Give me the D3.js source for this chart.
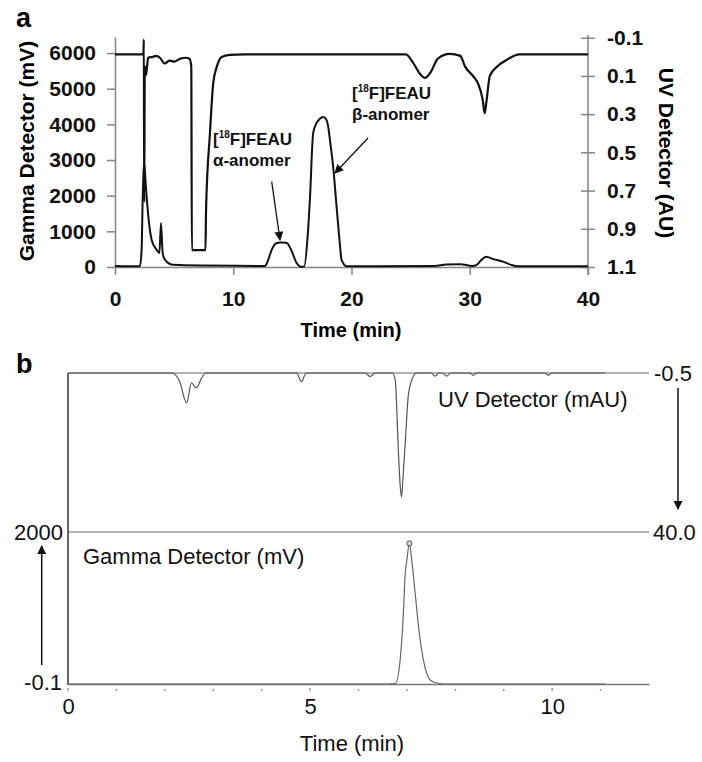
<!DOCTYPE html>
<html>
<head>
<meta charset="utf-8">
<script src="https://cdn.jsdelivr.net/npm/d3@7"></script>
<style>
  body { margin: 0; background: #fff; }
  svg { display: block; font-family: Arial, "Liberation Sans", Helvetica, sans-serif; }
</style>
</head>
<body>
<svg id="chart" width="702" height="762"></svg>
<script>
// ---- panel a data: [time (min), value] ----
const aUv = [
  [0, -0.013], [2.40, -0.013], [2.44, -0.09], [2.47, 0.76], [2.52, 0.05], [2.62, 0.095],
  [2.70, 0.06], [2.80, 0.005], [3.2, 0.0], [3.5, -0.005], [3.8, 0.005], [4.2, 0.035],
  [4.6, 0.02], [5.0, 0.025], [5.5, 0.01], [6.0, 0.005], [6.3, 0.01], [6.45, 0.05],
  [6.5, 1.012], [7.65, 1.012], [7.7, 0.8], [8.03, 0.40], [8.31, 0.137], [8.6, 0.054],
  [9.02, 0.001], [9.7, -0.01], [11, -0.013], [24.6, -0.013], [25.2, 0.03], [25.8, 0.09],
  [26.2, 0.11], [26.7, 0.08], [27.3, 0.01], [28.3, -0.015], [29.2, -0.005], [29.6, 0.05],
  [30.4, 0.11], [30.7, 0.14], [31.1, 0.226], [31.26, 0.295], [31.4, 0.24], [31.7, 0.10],
  [32.3, 0.052], [33.1, 0.017], [34.2, -0.013], [40, -0.013]
];
const aGamma = [
  [0, 30], [2.11, 20], [2.25, 480], [2.34, 1880], [2.42, 2720], [2.48, 2870], [2.59, 2360],
  [2.82, 1410], [3.1, 760], [3.52, 480], [3.75, 390], [3.89, 1230], [4.03, 390], [4.23, 200],
  [4.93, 60], [7.2, 40], [12.7, 30], [12.9, 150], [13.25, 480], [13.6, 660], [14.0, 690],
  [14.5, 680], [14.9, 480], [15.36, 110], [15.7, 10], [16.0, 15], [16.3, 900], [16.48, 1880],
  [16.76, 3760], [17.05, 4040], [17.3, 4150], [17.6, 4210], [17.85, 4150], [18.03, 3930],
  [18.2, 3500], [18.45, 2810], [18.74, 1690], [19.0, 700], [19.16, 200], [19.59, 20],
  [27, 30], [28, 70], [29.2, 80], [30.2, 30], [30.5, 40], [31.0, 200], [31.4, 290],
  [32, 220], [32.8, 150], [33.5, 60], [34.1, 20], [40, 20]
];
const aTimeTicks = [0, 10, 20, 30, 40];
const aGammaTicks = [0, 1000, 2000, 3000, 4000, 5000, 6000];
const aUvTicks = [-0.1, 0.1, 0.3, 0.5, 0.7, 0.9, 1.1];

// ---- panel b data ----
const bUv = [
  [0, -0.5], [2.15, -0.5], [2.3, 1.5], [2.45, 7.1], [2.55, 2.0], [2.65, 3.3], [2.75, 1.0],
  [2.85, -0.5], [4.72, -0.5], [4.82, 1.7], [4.92, -0.5], [6.14, -0.5], [6.24, 0.4],
  [6.34, -0.5], [6.70, -0.5], [6.76, 1.3], [6.82, 18.3], [6.86, 28], [6.89, 31.1],
  [6.92, 26], [6.96, 18.3], [7.03, 5], [7.10, 1.3], [7.2, -0.5], [7.5, -0.5], [7.58, 0.3],
  [7.66, -0.5], [7.74, -0.5], [7.82, 0.3], [7.9, -0.5], [8.3, -0.5], [8.37, 0.1],
  [8.44, -0.5], [9.85, -0.5], [9.92, 0.1], [10, -0.5], [11.1, -0.5]
];
const bGamma = [
  [0, 0], [6.6, 0], [6.76, 5], [6.86, 316], [6.93, 974], [6.96, 1412], [7.0, 1632],
  [7.05, 1851], [7.10, 1632], [7.17, 1197], [7.24, 754], [7.34, 316], [7.48, 53],
  [7.62, 13], [7.8, 0], [11.1, 0]
];
const bGammaApex = [[7.05, 1851]];
const bTimeTicks = [0, 5, 10];
const bMinorTicks = [0, 1, 2, 3, 4, 5, 6, 7, 8, 9, 10, 11];

const svg = d3.select("#chart");
const axisColor = "#858585";

svg.append("defs").append("marker")
  .attr("id", "head")
  .attr("viewBox", "0 0 10 10")
  .attr("refX", 9).attr("refY", 5)
  .attr("markerWidth", 10).attr("markerHeight", 9)
  .attr("markerUnits", "userSpaceOnUse")
  .attr("orient", "auto")
  .append("path")
  .attr("d", "M0,0L10,5L0,10z")
  .attr("fill", "#111");

const styleAxis = (g, size, weight) => {
  g.attr("font-family", null).attr("font-size", null);
  g.select(".domain").attr("stroke", axisColor).attr("stroke-width", 1.5);
  g.selectAll(".tick line").attr("stroke", axisColor).attr("stroke-width", 1.5);
  g.selectAll(".tick text")
    .attr("fill", "#111")
    .attr("font-size", size)
    .attr("font-weight", weight);
};

// ================= panel a =================
const xA = d3.scaleLinear().domain([0, 40]).range([115, 588]);
const gA = d3.scaleLinear().domain([0, 6450]).range([267, 37]);
const uA = d3.scaleLinear().domain([-0.1, 1.1]).range([37.7, 267]);

svg.append("g")
  .attr("transform", "translate(0,267)")
  .call(d3.axisBottom(xA).tickValues(aTimeTicks).tickSize(8).tickSizeOuter(0).tickPadding(16))
  .call(styleAxis, 21, "bold");

svg.append("g")
  .attr("transform", "translate(115,0)")
  .call(d3.axisLeft(gA).tickValues(aGammaTicks).tickSize(8).tickSizeOuter(0)
    .tickPadding(11).tickFormat(d => String(d)))
  .call(styleAxis, 21, "bold");

const rightAxis = svg.append("g")
  .attr("transform", "translate(588,0)")
  .call(d3.axisRight(uA).tickValues(aUvTicks).tickSize(7).tickSizeOuter(0)
    .tickPadding(12).tickFormat(d => d.toFixed(1)))
  .call(styleAxis, 21, "bold");
rightAxis.selectAll(".tick line").attr("x1", -7);
rightAxis.select(".domain").attr("d", "M0,35V275");

const lineUvA = d3.line().x(d => xA(d[0])).y(d => uA(d[1])).curve(d3.curveMonotoneX);
const lineGammaA = d3.line().x(d => xA(d[0])).y(d => gA(d[1])).curve(d3.curveMonotoneX);

svg.append("path").datum(aGamma)
  .attr("d", lineGammaA).attr("fill", "none").attr("stroke", "#111").attr("stroke-width", 2);
svg.append("path").datum(aUv)
  .attr("d", lineUvA).attr("fill", "none").attr("stroke", "#111").attr("stroke-width", 2.2);

svg.append("text").attr("x", 16).attr("y", 27)
  .attr("font-size", 27).attr("font-weight", "bold").text("a");

svg.append("text")
  .attr("transform", "translate(34,151) rotate(-90)")
  .attr("text-anchor", "middle").attr("font-size", 21).attr("font-weight", "bold")
  .text("Gamma Detector (mV)");

svg.append("text")
  .attr("transform", "translate(659,153) rotate(90)")
  .attr("text-anchor", "middle").attr("font-size", 21).attr("font-weight", "bold")
  .text("UV Detector (AU)");

svg.append("text").attr("x", 351).attr("y", 337)
  .attr("text-anchor", "middle").attr("font-size", 20).attr("font-weight", "bold")
  .text("Time (min)");

const feau = (x, y, second) => {
  const t = svg.append("text").attr("x", x).attr("y", y)
    .attr("font-size", 17).attr("font-weight", "bold").attr("fill", "#111");
  t.append("tspan").text("[");
  t.append("tspan").attr("font-size", 10).attr("dy", -7).text("18");
  t.append("tspan").attr("dy", 7).text("F]FEAU");
  svg.append("text").attr("x", x).attr("y", y + 21)
    .attr("font-size", 17).attr("font-weight", "bold").attr("fill", "#111")
    .text(second);
};
feau(213, 145, "α-anomer");
feau(352, 99, "β-anomer");

svg.append("line")
  .attr("x1", 271.7).attr("y1", 181.7).attr("x2", 280).attr("y2", 240)
  .attr("stroke", "#111").attr("stroke-width", 1.3).attr("marker-end", "url(#head)");
svg.append("line")
  .attr("x1", 368).attr("y1", 138).attr("x2", 335).attr("y2", 173)
  .attr("stroke", "#111").attr("stroke-width", 1.3).attr("marker-end", "url(#head)");

// ================= panel b =================
const xB = d3.scaleLinear().domain([0, 12]).range([68, 649]);
const uB = d3.scaleLinear().domain([-0.5, 40]).range([373, 532]);
const gB = d3.scaleLinear().domain([-0.1, 2000]).range([684, 532]);

svg.append("text").attr("x", 16).attr("y", 373)
  .attr("font-size", 27).attr("font-weight", "bold").text("b");

// reference lines at top of UV scale and top of gamma scale
svg.append("line")
  .attr("x1", xB(0)).attr("x2", xB(12)).attr("y1", uB(-0.5)).attr("y2", uB(-0.5))
  .attr("stroke", "#9a9a9a").attr("stroke-width", 1.5);
svg.append("line")
  .attr("x1", xB(0)).attr("x2", xB(12)).attr("y1", uB(40)).attr("y2", uB(40))
  .attr("stroke", "#9a9a9a").attr("stroke-width", 1.5);

const bottomB = svg.append("g")
  .attr("transform", "translate(0,684)")
  .call(d3.axisBottom(xB).tickValues(bTimeTicks).tickSize(0).tickSizeOuter(0).tickPadding(14))
  .call(styleAxis, 22, "normal");
bottomB.select(".domain").attr("stroke", "#777");

svg.append("g").selectAll("line").data(bMinorTicks).join("line")
  .attr("x1", d => xB(d)).attr("x2", d => xB(d))
  .attr("y1", d => d % 5 === 0 ? 688 : 689).attr("y2", 691)
  .attr("stroke", "#999").attr("stroke-width", 1.5);

svg.append("line")
  .attr("x1", 68).attr("x2", 68).attr("y1", 373).attr("y2", 685)
  .attr("stroke", "#555").attr("stroke-width", 1.8);

const lineUvB = d3.line().x(d => xB(d[0])).y(d => uB(d[1])).curve(d3.curveMonotoneX);
const lineGammaB = d3.line().x(d => xB(d[0])).y(d => gB(d[1])).curve(d3.curveMonotoneX);

svg.append("path").datum(bUv)
  .attr("d", lineUvB).attr("fill", "none").attr("stroke", "#555").attr("stroke-width", 1.2);
svg.append("path").datum(bGamma)
  .attr("d", lineGammaB).attr("fill", "none").attr("stroke", "#666").attr("stroke-width", 1.2);
svg.append("g").selectAll("circle").data(bGammaApex).join("circle")
  .attr("cx", d => xB(d[0])).attr("cy", d => gB(d[1])).attr("r", 2.6)
  .attr("fill", "#ccc").attr("stroke", "#555").attr("stroke-width", 1);

const plain = (x, y, anchor, txt) =>
  svg.append("text").attr("x", x).attr("y", y).attr("dy", "0.35em")
    .attr("text-anchor", anchor).attr("font-size", 22).attr("fill", "#111").text(txt);
plain(654, uB(-0.5), "start", "-0.5");
plain(653, uB(40), "start", "40.0");
plain(63, gB(2000), "end", "2000");
plain(62, 682, "end", "-0.1");

svg.append("text").attr("x", 438).attr("y", 407)
  .attr("font-size", 22).attr("fill", "#111").text("UV Detector (mAU)");
svg.append("text").attr("x", 83).attr("y", 564)
  .attr("font-size", 22).attr("fill", "#111").text("Gamma Detector (mV)");
svg.append("text").attr("x", 352).attr("y", 751)
  .attr("text-anchor", "middle").attr("font-size", 22).attr("fill", "#111").text("Time (min)");

svg.append("line")
  .attr("x1", 678).attr("x2", 678).attr("y1", 388).attr("y2", 509)
  .attr("stroke", "#111").attr("stroke-width", 1.5).attr("marker-end", "url(#head)");
svg.append("line")
  .attr("x1", 41.7).attr("x2", 41.7).attr("y1", 665).attr("y2", 546)
  .attr("stroke", "#111").attr("stroke-width", 1.5).attr("marker-end", "url(#head)");
</script>
</body>
</html>
